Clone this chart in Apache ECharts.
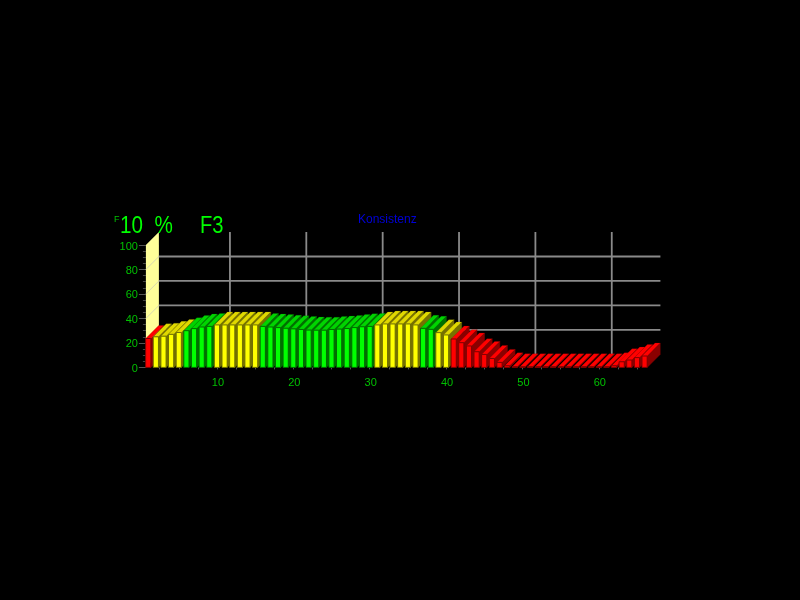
<!DOCTYPE html>
<html><head><meta charset="utf-8">
<style>html,body{margin:0;background:#000}#c{width:800px;height:600px;filter:blur(0.45px)}</style>
<script src="https://cdn.jsdelivr.net/npm/echarts@6/dist/echarts.min.js"></script>
</head><body><div id="c"></div>
<script>
const values = [23.6,25,25.5,27,28.5,30,31.7,33,33.5,34.7,34.7,34.7,34.7,34.7,34.7,33.5,33,32.5,32,31.5,31,30.5,
  30.4,30.4,31,31.3,31.8,32.5,33.2,33.5,34.7,35.5,35.5,35.5,35.5,34.7,31.9,31.1,28.4,26.5,23.2,20.2,17.5,12.8,10.6,7.3,4.1,1.3,
  0.5,0.5,0.5,0.5,0.5,0.5,0.5,0.5,0.5,0.5,0.5,0.5,0.5,1.3,4.6,6,8,9.3];
const categories = values.map((_, i) => i + 1);
const xLabelTicks = [10,20,30,40,50,60];
const xMinorTicks = [2.5,5,7.5,10,12.5,15,17.5,20,22.5,25,27.5,30,32.5,35,37.5,40,42.5,45,47.5,50,52.5,55,57.5,60,62.5,65];
const backHorizontal = [20,40,60,80];
const backVertical = [10,20,30,40,50,60];
const yMax = 100, xMin = 0.5, xMax = 66.5;
const titleMain = '10  %', titleCode = 'F3', titleUnit = 'F', titleName = 'Konsistenz';

const DEPTH = 13, WALL_SHIFT = 1.5;
function palette(v) {
  if (v < 24.5) return ['#ff0000', '#ff0000', '#8a0000', '#800000'];
  if (v < 29.5) return ['#ffff00', '#e0d800', '#767000', '#707000'];
  if (v < 34.2) return ['#00ff00', '#00d400', '#007000', '#006c00'];
  return ['#ffff00', '#e0d800', '#767000', '#707000'];
}
function poly(points, fill, stroke, lw) {
  return { type: 'polygon', shape: { points }, style: { fill, stroke: stroke || null, lineWidth: lw || 0 } };
}
const grey = '#8a8a8a';
function renderWall(params, api) {
  const a = api.coord([xMin, 0]), b = api.coord([xMin, yMax]);
  const wx = a[0] + WALL_SHIFT;
  const kids = [poly([[wx, a[1]], [wx, b[1]], [wx + DEPTH, b[1] - DEPTH], [wx + DEPTH, a[1] - DEPTH]], '#ffff99')];
  backHorizontal.forEach(v => {
    const l = api.coord([xMin, v]), r = api.coord([xMax, v]);
    kids.push({ type: 'line', shape: { x1: wx, y1: l[1], x2: wx + DEPTH, y2: l[1] - DEPTH }, style: { stroke: '#d8d8b0', lineWidth: 1 } });
    kids.push({ type: 'line', shape: { x1: wx + DEPTH, y1: l[1] - DEPTH, x2: r[0] + DEPTH - 1, y2: r[1] - DEPTH }, style: { stroke: grey, lineWidth: 1.8 } });
  });
  backVertical.forEach(v => {
    const l = api.coord([v, 0]), t = api.coord([v, yMax]);
    kids.push({ type: 'line', shape: { x1: l[0] + DEPTH, y1: l[1] - DEPTH, x2: t[0] + DEPTH, y2: t[1] - DEPTH }, style: { stroke: grey, lineWidth: 1.8 } });
  });
  return { type: 'group', children: kids };
}
function renderBar(params, api) {
  const x = api.value(0), v = api.value(1);
  const base = api.coord([x, 0]), top = api.coord([x, v]);
  const w = api.size([1, 0])[0] * 0.68;
  const x0 = base[0] - w / 2, x1 = base[0] + w / 2, yb = base[1], yt = top[1];
  const [front, tp, side, edge] = palette(v);
  return { type: 'group', children: [
    poly([[x1, yb], [x1, yt], [x1 + DEPTH, yt - DEPTH], [x1 + DEPTH, yb - DEPTH]], side, edge, 0.5),
    poly([[x0, yt], [x1, yt], [x1 + DEPTH, yt - DEPTH], [x0 + DEPTH, yt - DEPTH]], tp, edge, 0.2),
    poly([[x0, yb], [x1, yb], [x1, yt], [x0, yt]], front, edge, 1)
  ]};
}
const gtext = (text, x, y, size, color, scaleX) => ({ type: 'text', x, y, scaleX, style: { text, fill: color, fontSize: size, fontFamily: 'Liberation Sans', textVerticalAlign: 'middle' }, z: 10 });
const labelRich = pad => ({ a: { padding: pad, color: '#00c000', fontSize: 11, fontFamily: 'Liberation Sans' } });
const chart = echarts.init(document.getElementById('c'), null, { renderer: 'canvas' });
chart.setOption({
  animation: false,
  backgroundColor: '#000000',
  graphic: [
    gtext(titleUnit, 114, 220, 9, '#00c000', 1),
    gtext(titleMain, 120, 226, 24, '#00ff00', 0.86),
    gtext(titleCode, 200, 226, 24, '#00ff00', 0.84),
    gtext(titleName, 358, 220, 12, '#0000d8', 1)
  ],
  grid: { left: 144.4, top: 245, width: 504, height: 122.4 },
  xAxis: {
    type: 'value', min: xMin, max: xMax,
    splitLine: { show: false }, axisLine: { show: false },
    axisTick: { show: true, customValues: xMinorTicks, length: 2, lineStyle: { color: '#555' } },
    axisLabel: { customValues: xLabelTicks, formatter: '{a|{value}}', rich: labelRich([0, 0, 0, 2]), margin: 8 },
    offset: 2
  },
  yAxis: {
    type: 'value', min: 0, max: yMax, interval: 20, offset: -WALL_SHIFT,
    splitLine: { show: false }, axisLine: { show: false },
    axisTick: { show: true, length: 7, lineStyle: { color: '#555' } },
    minorTick: { show: true, splitNumber: 4, length: 3, lineStyle: { color: '#444' } },
    axisLabel: { formatter: '{a|{value}}', rich: labelRich([3, 0, 0, 0]), margin: 8 }
  },
  series: [
    { type: 'custom', z: 1, renderItem: renderWall, data: [[xMin, 0]], clip: false, silent: true },
    { type: 'custom', z: 2, renderItem: renderBar, data: categories.map((c, i) => [c, values[i]]), clip: false, silent: true }
  ]
});
</script></body></html>
